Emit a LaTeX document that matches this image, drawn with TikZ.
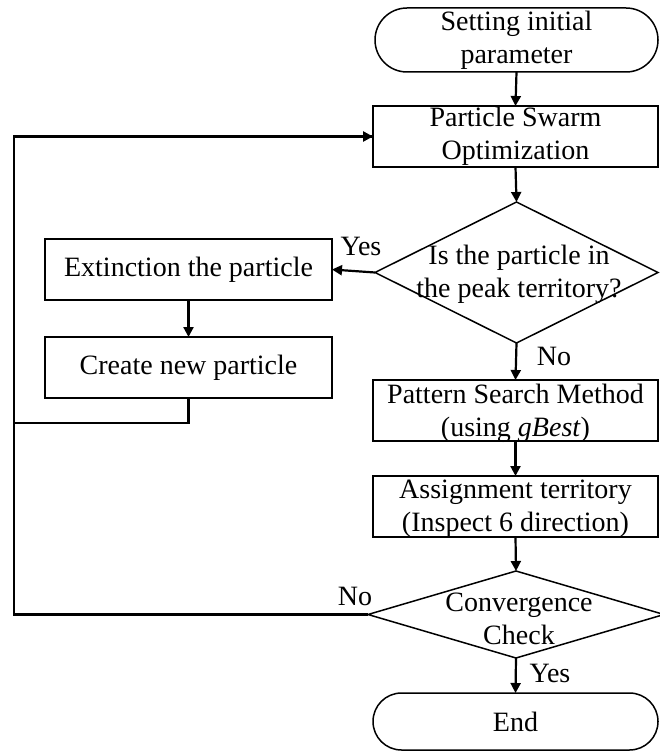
\documentclass[tikz,border=0pt]{standalone}
\usepackage{fontspec}
\setmainfont{Liberation Serif}
\usetikzlibrary{shapes.geometric,shapes.misc,arrows.meta}
\begin{document}
\begin{tikzpicture}[x=1pt,y=-1pt,
  font=\fontsize{28}{33}\selectfont,
  procbox/.style={draw,line width=1.5pt,rectangle,minimum height=61pt,
    inner sep=0pt,outer sep=0pt,align=center},
  termbox/.style={draw,line width=1.5pt,rounded rectangle,
    inner sep=0pt,outer sep=0pt,align=center},
  decbox/.style={draw,line width=1.5pt,diamond,inner sep=0pt,outer sep=0pt},
  dtext/.style={inner sep=0pt,align=center},
  lbl/.style={inner sep=0pt,anchor=base},
  flow/.style={line width=2.2pt,-{Triangle[length=10pt,width=10pt]}},
  loopline/.style={line width=2.6pt},
]
\useasboundingbox (0,0) rectangle (659,751);

% terminals and process boxes
\node[termbox,minimum width=283pt,minimum height=64pt] (start) at (516.5,40)
  {Setting initial\\parameter};
\node[procbox,minimum width=285pt] (pso) at (515.5,136.5)
  {Particle Swarm\\Optimization};
\node[procbox,minimum width=287pt] (ext) at (188.5,269.5)
  {Extinction the particle};
\node[procbox,minimum width=287pt] (cre) at (188.5,367.5)
  {Create new particle};
\node[procbox,minimum width=285pt] (pat) at (515.5,410.5) {};
\node[dtext] (patt) at (515.5,413) {Pattern Search Method\\(using \textit{gBest})};
\node[procbox,minimum width=285pt] (asg) at (515.5,506.5) {};
\node[dtext] (asgt) at (515.5,509) {Assignment territory\\(Inspect 6 direction)};
\node[termbox,minimum width=285pt,minimum height=57pt] (end) at (515.5,721.5) {End};

% decisions
\node[decbox,minimum width=283pt,minimum height=141pt] (d1) at (516.5,272.5) {};
\node[dtext] (d1t) at (519,274) {Is the particle in\\the peak territory?};
\node[decbox,minimum width=296pt,minimum height=87pt] (d2) at (516,614.5) {};
\node[dtext] (d2t) at (519,619) {Convergence\\Check};

% branch labels
\node[lbl] (yes1) at (361,255) {Yes};
\node[lbl] (no1) at (554,365) {No};
\node[lbl] (no2) at (355,605) {No};
\node[lbl] (yes2) at (550,682) {Yes};

% main flow
\draw[flow] (start.south) -- (pso.north);
\draw[flow] (pso.south) -- (d1.north);
\draw[flow] (d1.west) -- (ext.east);
\draw[flow] (ext.south) -- (cre.north);
\draw[flow] (d1.south) -- (pat.north);
\draw[flow] (pat.south) -- (asg.north);
\draw[flow] (asg.south) -- (d2.north);
\draw[flow] (d2.south) -- (end.north);

% feedback loop back to the optimizer
\coordinate (lb) at (14,614.5);
\coordinate (lt) at (14,136.5);
\coordinate (jn) at (14,423);
\draw[loopline] (d2.west) -- (lb) -- (lt) -- (pso.west);
\draw[loopline,-{Triangle[length=10pt,width=10pt]}] (lt) -- (pso.west);
\draw[loopline] (cre.south) |- (jn);
\end{tikzpicture}
\end{document}
